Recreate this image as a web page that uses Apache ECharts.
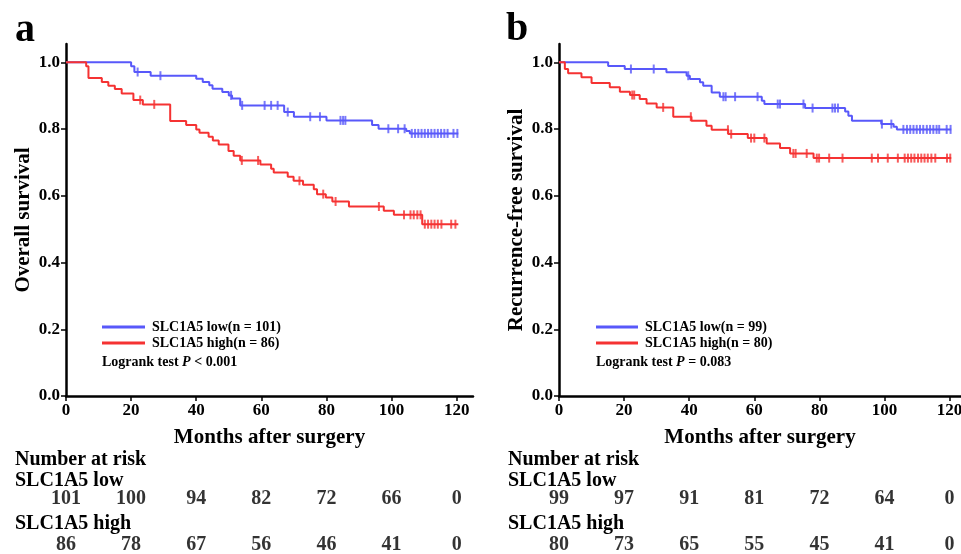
<!DOCTYPE html>
<html>
<head>
<meta charset="utf-8">
<script src="https://cdn.jsdelivr.net/npm/echarts@6/dist/echarts.min.js"></script>
<style>
  html, body { margin: 0; padding: 0; background: #fff; }
  #chart { width: 961px; height: 554px; }
</style>
</head>
<body>
<div id="chart"></div>
<script>
// overall survival (a)
var osLowTimes = [0, 20, 21, 26, 40, 42, 44, 45, 48, 50, 51, 53.5, 67, 70, 80, 94, 96, 104.5, 105.6, 120.5];
var osLowSurv = [1.0, 0.988, 0.971, 0.960, 0.951, 0.941, 0.931, 0.921, 0.911, 0.901, 0.892, 0.871, 0.851, 0.837, 0.826, 0.812, 0.801, 0.794, 0.787, 0.787];
var osLowCensor = [22, 29, 50.7, 54.1, 61, 63, 65, 68.1, 75, 78, 84.3, 85.1, 85.8, 99, 102, 104, 106.2, 107.2, 108.2, 109.2, 110.2, 111.2, 112.2, 113.2, 114.2, 115.2, 116.2, 117.2, 119, 120.2];
var osHighTimes = [0, 6.2, 6.9, 11, 13, 15, 17.1, 20.7, 23.6, 32, 36.9, 40, 41, 43.8, 45.1, 46.9, 49.9, 51.5, 53.5, 59.7, 63, 63.8, 68.1, 69.9, 72.8, 76.1, 77.1, 79.8, 81.8, 86.9, 97.6, 100.7, 109.4, 120.5];
var osHighSurv = [1.0, 0.988, 0.953, 0.941, 0.930, 0.920, 0.907, 0.887, 0.874, 0.824, 0.812, 0.799, 0.789, 0.777, 0.766, 0.754, 0.734, 0.720, 0.706, 0.694, 0.681, 0.670, 0.657, 0.645, 0.633, 0.620, 0.605, 0.595, 0.583, 0.568, 0.555, 0.543, 0.515, 0.515];
var osHighCensor = [22.8, 27.1, 54, 59, 71.7, 79, 82.8, 96.1, 103.8, 105.8, 106.8, 107.9, 108.9, 110.2, 111.2, 112.2, 113.2, 114.2, 115.3, 118.3, 119.6];

// recurrence-free survival (b)
var rfsLowTimes = [0, 15.1, 20.2, 33, 39.2, 40.2, 43.3, 44.3, 46.9, 49.4, 62.3, 63.1, 75.6, 87.9, 88.9, 90, 99, 102.8, 103.8, 120.5];
var rfsLowSurv = [1.0, 0.989, 0.980, 0.970, 0.960, 0.950, 0.940, 0.930, 0.910, 0.897, 0.885, 0.875, 0.863, 0.853, 0.840, 0.825, 0.815, 0.807, 0.799, 0.799];
var rfsLowCensor = [22.1, 29.1, 39.7, 50.5, 51.2, 54.1, 61, 67.2, 67.9, 75.1, 77.9, 84, 84.8, 85.7, 99.2, 102.1, 105.8, 106.9, 107.9, 108.9, 109.9, 110.9, 111.9, 113, 114, 115, 116, 116.8, 119.1, 120.3];
var rfsHighTimes = [0, 1.8, 2.8, 6.9, 10, 15.6, 18.7, 21.8, 24.8, 26.9, 30, 35.1, 40.7, 45.3, 46.9, 52, 58, 63.8, 67.9, 71, 78.2, 120.5];
var rfsHighSurv = [1.0, 0.980, 0.967, 0.955, 0.938, 0.925, 0.912, 0.902, 0.890, 0.877, 0.865, 0.837, 0.825, 0.810, 0.798, 0.785, 0.773, 0.757, 0.743, 0.727, 0.713, 0.713];
var rfsHighCensor = [22.5, 23.1, 32, 40.5, 51.9, 52.9, 59, 60, 63.1, 72, 72.7, 76.1, 79.2, 79.9, 83, 87.1, 96.1, 98, 101, 104.1, 106.2, 107.2, 108.2, 109.2, 110.3, 111.3, 112.3, 113.3, 114.4, 115.6, 119.2, 120.2];

// number at risk
var riskTimes = [0, 20, 40, 60, 80, 100, 120];
var osRiskLow = [101, 100, 94, 82, 72, 66, 0];
var osRiskHigh = [86, 78, 67, 56, 46, 41, 0];
var rfsRiskLow = [99, 97, 91, 81, 72, 64, 0];
var rfsRiskHigh = [80, 73, 65, 55, 45, 41, 0];

var xTicks = [0, 20, 40, 60, 80, 100, 120];
var yTicks = [0, 0.2, 0.4, 0.6, 0.8, 1.0];

var BLUE = '#5858fa';
var RED = '#f53232';
var SERIF = 'Liberation Serif, DejaVu Serif, serif';

function pairs(t, s) {
  return t.map(function (v, i) { return [v, s[i]]; });
}
// place a censor mark on the curve level at that time
function censorPts(c, t, s) {
  return c.map(function (ct) {
    var v = s[0];
    for (var i = 0; i < t.length; i++) { if (t[i] <= ct) v = s[i]; }
    return [ct, v];
  });
}
function riskPts(row, vals) {
  return riskTimes.map(function (t, i) { return [t, row, vals[i]]; });
}

function mainX(idx, max) {
  return {
    gridIndex: idx, type: 'value', min: 0, max: max,
    name: 'Months after surgery', nameLocation: 'middle', nameGap: 31,
    nameTextStyle: { fontFamily: SERIF, fontWeight: 'bold', fontSize: 21, color: '#000' },
    axisLine: { lineStyle: { color: '#000', width: 2.5 } },
    axisTick: { customValues: xTicks, length: 5, lineStyle: { color: '#000', width: 1.5 } },
    axisLabel: { customValues: xTicks, fontFamily: SERIF, fontWeight: 'bold', fontSize: 17, color: '#000', margin: 6 },
    splitLine: { show: false }
  };
}
function mainY(idx, name) {
  return {
    gridIndex: idx, type: 'value', min: 0, max: 1.055,
    name: name, nameLocation: 'middle', nameGap: 32, nameRotate: 90,
    nameTextStyle: { fontFamily: SERIF, fontWeight: 'bold', fontSize: 21, color: '#000' },
    axisLine: { show: true, lineStyle: { color: '#000', width: 2.5 } },
    axisTick: { show: true, customValues: yTicks, length: 5, lineStyle: { color: '#000', width: 1.5 } },
    axisLabel: { customValues: yTicks, fontFamily: SERIF, fontWeight: 'bold', fontSize: 17, color: '#000', margin: 6,
      formatter: function (v) { return v.toFixed(1); } },
    splitLine: { show: false }
  };
}
function riskX(idx, max) {
  return { gridIndex: idx, type: 'value', min: 0, max: max, show: false };
}
function riskY(idx) {
  return { gridIndex: idx, type: 'category', data: ['low', 'high'], inverse: true, show: false };
}
function curve(name, idx, t, s, color) {
  return { name: name, type: 'line', xAxisIndex: idx, yAxisIndex: idx, step: 'end',
    data: pairs(t, s), showSymbol: false, symbol: 'none', color: color,
    lineStyle: { color: color, width: 2 }, animation: false, silent: true };
}
function marks(name, idx, c, t, s, color) {
  return { name: name, type: 'scatter', xAxisIndex: idx, yAxisIndex: idx,
    data: censorPts(c, t, s), symbol: 'rect', symbolSize: [2, 9],
    itemStyle: { color: color }, animation: false, silent: true };
}
function riskRow(name, idx, row, vals) {
  return { name: name, type: 'scatter', xAxisIndex: idx, yAxisIndex: idx,
    data: riskPts(row, vals), symbolSize: 0, animation: false, silent: true,
    label: { show: true, position: 'inside', fontFamily: SERIF, fontWeight: 'bold', fontSize: 20, color: '#000',
      formatter: function (p) { return p.value[2]; } } };
}
function txt(text, left, top, size) {
  return { text: text, left: left, top: top, padding: 0,
    textStyle: { fontFamily: SERIF, fontWeight: 'bold', fontSize: size, color: '#000' } };
}
function logrank(op, val, left) {
  return { text: '{n|Logrank test }{i|P}{n| ' + op + ' ' + val + '}', left: left, top: 355, padding: 0,
    textStyle: { rich: {
      n: { fontFamily: SERIF, fontWeight: 'bold', fontSize: 14, color: '#000' },
      i: { fontFamily: SERIF, fontWeight: 'bold', fontStyle: 'italic', fontSize: 14, color: '#000' }
    } } };
}
function legendFor(names, left, w) {
  return { data: names, orient: 'vertical', left: left, top: 320, padding: 0, icon: 'rect',
    itemWidth: w, itemHeight: 3, itemGap: 2, selectedMode: false,
    textStyle: { fontFamily: SERIF, fontWeight: 'bold', fontSize: 14, color: '#000', padding: [0, 0, 0, 2] } };
}

var chart = echarts.init(document.getElementById('chart'), null, { renderer: 'canvas' });
var option = {
  backgroundColor: '#fff',
  animation: false,
  title: [
    txt('a', 15, 11, 40),
    txt('b', 506, 10, 40),
    logrank('<', '0.001', 102),
    logrank('=', '0.083', 596),
    txt('Number at risk', 15, 450, 20),
    txt('SLC1A5 low', 15, 471, 20),
    txt('SLC1A5 high', 15, 514, 20),
    txt('Number at risk', 508, 450, 20),
    txt('SLC1A5 low', 508, 471, 20),
    txt('SLC1A5 high', 508, 514, 20)
  ],
  legend: [
    legendFor(['SLC1A5 low(n = 101)', 'SLC1A5 high(n = 86)'], 102, 43),
    legendFor(['SLC1A5 low(n = 99)', 'SLC1A5 high(n = 80)'], 596, 42)
  ],
  grid: [
    { left: 66, top: 44, width: 407, height: 352, outerBoundsMode: 'none' },
    { left: 559, top: 44, width: 402, height: 352, outerBoundsMode: 'none' },
    { left: 66, top: 476, width: 407, height: 92, outerBoundsMode: 'none' },
    { left: 559, top: 476, width: 402, height: 92, outerBoundsMode: 'none' }
  ],
  xAxis: [mainX(0, 125), mainX(1, 123.5), riskX(2, 125), riskX(3, 123.5)],
  yAxis: [mainY(0, 'Overall survival'), mainY(1, 'Recurrence-free survival'), riskY(2), riskY(3)],
  series: [
    curve('SLC1A5 low(n = 101)', 0, osLowTimes, osLowSurv, BLUE),
    curve('SLC1A5 high(n = 86)', 0, osHighTimes, osHighSurv, RED),
    marks('os low censored', 0, osLowCensor, osLowTimes, osLowSurv, BLUE),
    marks('os high censored', 0, osHighCensor, osHighTimes, osHighSurv, RED),
    curve('SLC1A5 low(n = 99)', 1, rfsLowTimes, rfsLowSurv, BLUE),
    curve('SLC1A5 high(n = 80)', 1, rfsHighTimes, rfsHighSurv, RED),
    marks('rfs low censored', 1, rfsLowCensor, rfsLowTimes, rfsLowSurv, BLUE),
    marks('rfs high censored', 1, rfsHighCensor, rfsHighTimes, rfsHighSurv, RED),
    riskRow('os risk low', 2, 'low', osRiskLow),
    riskRow('os risk high', 2, 'high', osRiskHigh),
    riskRow('rfs risk low', 3, 'low', rfsRiskLow),
    riskRow('rfs risk high', 3, 'high', rfsRiskHigh)
  ]
};
chart.setOption(option);
</script>
</body>
</html>
